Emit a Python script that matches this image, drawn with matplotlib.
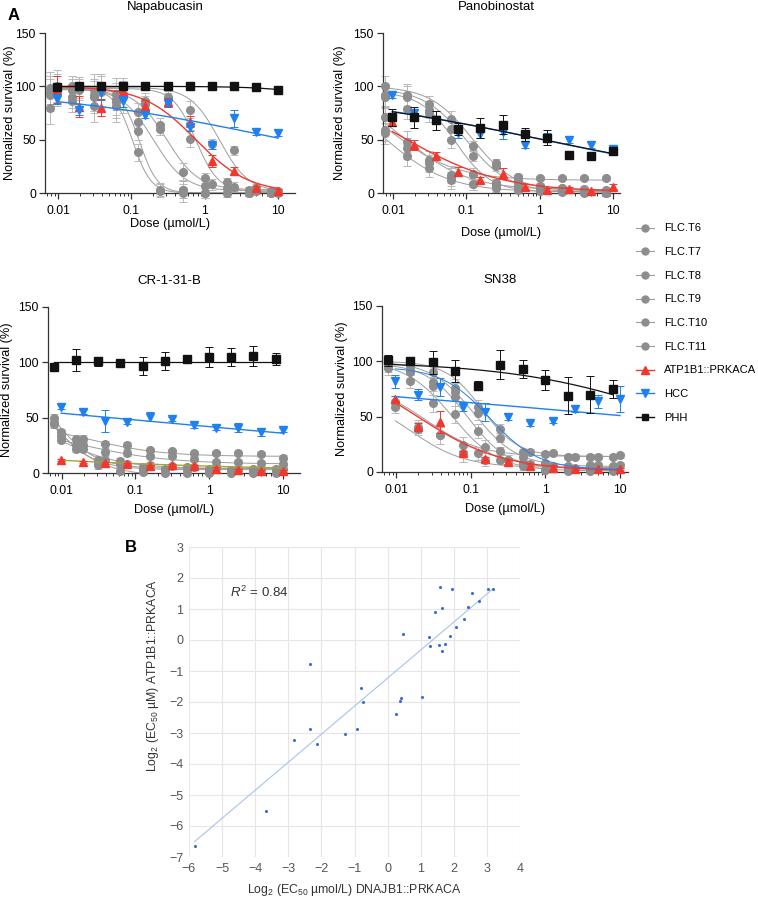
import numpy as np
import matplotlib
matplotlib.use("Agg")
import matplotlib.pyplot as plt
from matplotlib.lines import Line2D
from matplotlib.ticker import LogLocator, NullFormatter

plt.rcParams['font.family'] = ['Liberation Sans', 'DejaVu Sans']
plt.rcParams['mathtext.fontset'] = 'custom'
plt.rcParams['mathtext.rm'] = 'Liberation Sans'
plt.rcParams['mathtext.it'] = 'Liberation Sans:italic'
plt.rcParams['mathtext.default'] = 'regular'

# two dilution series used in the screens (umol/L)
dose10 = [0.0098, 0.0195, 0.039, 0.078, 0.156, 0.3125, 0.625, 1.25, 2.5, 5, 10]
dose8 = [0.0078, 0.0156, 0.03125, 0.0625, 0.125, 0.25, 0.5, 1, 2, 4, 8]

flc_names = ['FLC.T6', 'FLC.T7', 'FLC.T8', 'FLC.T9', 'FLC.T10', 'FLC.T11']

# fit parameters are (top, bottom, log10 EC50, hill)

# ---- Napabucasin
napa_flc = [
    [95, 97, 92, 88, 38, 3, 3, 0, 0, 0, 0],
    [80, 90, 82, 85, 58, 2, 0, 0, 0, 0, 1],
    [98, 100, 97, 93, 67, 60, 3, 7, 5, 0, 0],
    [92, 86, 90, 82, 76, 64, 20, 14, 10, 3, 2],
    [97, 99, 95, 90, 86, 90, 51, 8, 6, 2, 0],
    [100, 97, 97, 93, 83, 88, 78, 46, 40, 5, 2],
]
napa_flc_err = [15, 10, 15, 15, 8, 6, 8, 5, 4, 3, 2]
napa_flc_fit = [(97, 0, -0.98, 3.5), (97, 0, -0.89, 3.5), (98, 2, -0.70, 2.0),
                (98, 3, -0.52, 2.0), (98, 1, -0.12, 2.8), (99, 1, 0.20, 2.2)]
napa_atp = [97, 81, 80, 95, 82, 85, 67, 30, 21, 5, 2]
napa_atp_err = [13, 10, 8, 5, 5, 4, 5, 6, 3, 2, 2]
napa_hcc = [88, 78, 95, 86, 73, 84, 62, 45, 70, 57, 56]
napa_hcc_err = [5, 5, 8, 5, 3, 3, 4, 4, 8, 3, 3]
napa_phh = [99, 100, 100, 100, 100, 100, 100, 100, 100, 99, 97]
napa_phh_err = [3, 2, 2, 1, 1, 1, 1, 1, 1, 2, 3]
napa_fits = {'atp': (100, 0, -0.12, 1.2), 'hcc': (100, 0, 1.1, 0.25), 'phh': (100, 0, 2.5, 1.0)}

# ---- Panobinostat
pano_flc = [
    [100, 92, 83, 69, 44, 28, 15, 7, 5, 3, 2],
    [92, 90, 78, 60, 35, 25, 12, 6, 4, 3, 1],
    [90, 79, 75, 50, 18, 9, 6, 4, 2, 1, 0],
    [71, 48, 31, 17, 18, 9, 8, 6, 5, 4, 3],
    [59, 42, 28, 15, 8, 7, 15, 14, 14, 14, 14],
    [56, 35, 23, 12, 8, 5, 3, 2, 1, 0, 0],
]
pano_flc_err = [10, 10, 8, 8, 5, 4, 3, 2, 2, 2, 2]
pano_flc_fit = [(100, 2, -0.92, 1.5), (98, 1, -1.0, 1.5), (95, 1, -1.15, 1.8),
                (100, 3, -1.85, 1.0), (100, 12, -2.0, 1.0), (100, 1, -2.1, 1.0)]
pano_atp = [67, 45, 35, 20, 12, 18, 6, 3, 4, 2, 6]
pano_atp_err = [4, 5, 3, 4, 3, 5, 2, 2, 2, 2, 2]
pano_hcc = [92, 75, 68, 56, 55, 57, 45, 52, 50, 45, 41]
pano_hcc_err = [3, 4, 3, 4, 3, 6, 3, 4, 3, 3, 3]
pano_phh = [71, 71, 68, 60, 61, 64, 55, 52, 36, 35, 39]
pano_phh_err = [8, 10, 9, 6, 9, 9, 6, 7, 3, 3, 3]
pano_fits = {'atp': (100, 1, -1.82, 0.67), 'hcc': (100, 0, 0.04, 0.25), 'phh': (100, 0, 0.05, 0.245)}

# ---- CR-1-31-B
cr_flc = [
    [50, 25, 12, 11, 5, 4, 5, 4, 3, 4, 4],
    [45, 22, 9, 8, 4, 3, 4, 3, 3, 3, 3],
    [44, 31, 7, 2, 1, 0, 0, 0, 0, 0, 0],
    [37, 31, 26, 25, 21, 20, 18, 18, 18, 17, 14],
    [33, 25, 19, 18, 15, 15, 13, 10, 10, 9, 8],
    [30, 22, 12, 8, 7, 6, 5, 5, 4, 4, 4],
]
cr_flc_err = [3, 3, 3, 3, 2, 2, 2, 2, 2, 2, 2]
cr_flc_fit = [(100, 4, -2.15, 1.5), (100, 3, -2.2, 1.5), (100, -3, -2.2, 1.2),
              (45, 15, -1.6, 0.9), (45, 8, -1.8, 0.7), (60, 4, -2.1, 1.0)]
cr_atp = [12, 10, 9, 8, 6, 7, 6, 4, 3, 2, 2]
cr_atp_err = [1, 1, 1, 1, 1, 1, 1, 1, 1, 1, 1]
cr_hcc = [60, 55, 47, 46, 51, 49, 43, 41, 41, 37, 39]
cr_hcc_err = [2, 2, 10, 2, 4, 2, 2, 2, 4, 4, 2]
cr_phh = [96, 102, 101, 99, 97, 101, 103, 105, 105, 106, 103]
cr_phh_err = [3, 10, 4, 2, 8, 8, 4, 9, 8, 9, 5]
cr_fits = {'atp': (100, 0, -8.03, 0.147), 'hcc': (100, 0, -1.346, 0.1065), 'phh': (100, 100, 0, 1.0)}

# ---- SN38
sn_flc = [
    [98, 95, 90, 76, 59, 39, 18, 16, 14, 14, 14],
    [96, 90, 81, 72, 53, 31, 14, 8, 5, 6, 5],
    [94, 82, 78, 68, 37, 19, 8, 2, 4, 3, 4],
    [99, 91, 62, 52, 17, 11, 5, 2, 1, 1, 1],
    [63, 39, 33, 24, 23, 11, 18, 17, 14, 14, 15],
    [59, 41, 33, 17, 11, 11, 7, 5, 4, 6, 6],
]
sn_flc_err = [6, 6, 8, 8, 6, 4, 3, 2, 2, 2, 2]
sn_flc_fit = [(100, 14, -0.85, 1.8), (100, 5, -0.95, 1.5), (98, 3, -1.05, 1.6),
              (100, 1, -1.25, 1.4), (80, 14, -1.6, 1.2), (70, 4, -1.8, 1.2)]
sn_atp = [66, 41, 45, 17, 12, 9, 5, 4, 3, 3, 3]
sn_atp_err = [3, 3, 10, 2, 2, 2, 2, 2, 1, 1, 1]
sn_hcc = [82, 70, 77, 59, 54, 50, 44, 46, 57, 64, 66]
sn_hcc_err = [6, 5, 8, 4, 8, 3, 2, 2, 3, 6, 12]
sn_phh = [101, 100, 99, 91, 78, 97, 93, 83, 69, 70, 75]
sn_phh_err = [5, 3, 10, 10, 4, 13, 8, 9, 17, 17, 8]
sn_fits = {'atp': (100, 1, -1.72, 0.76), 'hcc': (100, 0, 1.166, 0.1036), 'phh': (100, 0, 1.83, 0.394),
           'hcc2': (95, 2, -0.74, 1.34)}

# ---- panel B: log2 EC50 values
ec50_dnajb1 = [-5.83, -3.66, -2.84, -2.35, -2.35, -2.13, -1.28, -0.93, -0.80, -0.75, 0.26,
               0.38, 0.41, 0.46, 1.05, 1.24, 1.27, 1.44, 1.56, 1.58, 1.65, 1.65, 1.72, 1.88,
               1.96, 2.07, 2.30, 2.43, 2.55, 2.76, 3.02, 3.19]
ec50_atp1b1 = [-6.63, -5.53, -3.21, -2.88, -0.79, -3.34, -3.02, -2.88, -1.54, -2.00, -2.40,
               -1.96, -1.88, 0.20, -1.83, 0.10, -0.20, 0.90, -0.15, 1.70, 1.04, -0.36, -0.13, 0.13,
               1.66, 0.43, 0.68, 1.05, 1.52, 1.27, 1.65, 1.65]

GRAY = '#8d8d8d'
GRAY_LINE = '#9c9c9c'
GRAY_ERR = '#b8b8b8'
RED = '#f2372c'
BLUE = '#1f80f0'
BLACK = '#111111'


def logistic(x, top, bottom, logec, hill):
    return bottom + (top - bottom) / (1 + 10 ** ((np.log10(x) - logec) * hill))


def curve(ax, doses, fit, color, lw, z):
    xs = np.logspace(np.log10(min(doses)), np.log10(max(doses)), 200)
    ax.plot(xs, logistic(xs, *fit), color=color, lw=lw, zorder=z)


def points(ax, doses, vals, err, marker, color, ecolor, ms, z):
    ax.errorbar(doses, vals, yerr=err, fmt='none', ecolor=ecolor, elinewidth=0.7,
                capsize=3, capthick=0.7, zorder=z - 0.5, clip_on=False)
    ax.plot(doses, vals, ls='none', marker=marker, ms=ms, mfc=color, mec=color,
            zorder=z, clip_on=False)


panels = [
    dict(title='Napabucasin', box=(45, 295, 33, 193), xlog=(-2.177, 1.232),
         flc=napa_flc, flc_err=napa_flc_err, flc_fit=napa_flc_fit,
         flc_doses=[dose8, dose8, dose8, dose8, dose10, dose10],
         atp=napa_atp, atp_err=napa_atp_err, hcc=napa_hcc, hcc_err=napa_hcc_err,
         phh=napa_phh, phh_err=napa_phh_err, fits=napa_fits, phh_doses=dose10,
         ylab=29, xlab=25, atp_line=RED),
    dict(title='Panobinostat', box=(383, 620, 33, 193), xlog=(-2.136, 1.095),
         flc=pano_flc, flc_err=pano_flc_err, flc_fit=pano_flc_fit,
         flc_doses=[dose8] * 6,
         atp=pano_atp, atp_err=pano_atp_err, hcc=pano_hcc, hcc_err=pano_hcc_err,
         phh=pano_phh, phh_err=pano_phh_err, fits=pano_fits, phh_doses=dose10,
         ylab=37, xlab=34, atp_line=RED),
    dict(title='CR-1-31-B', box=(48, 300, 307, 473), xlog=(-2.186, 1.235),
         flc=cr_flc, flc_err=cr_flc_err, flc_fit=cr_flc_fit,
         flc_doses=[dose8, dose8, dose8, dose10, dose10, dose10],
         atp=cr_atp, atp_err=cr_atp_err, hcc=cr_hcc, hcc_err=cr_hcc_err,
         phh=cr_phh, phh_err=cr_phh_err, fits=cr_fits, phh_doses=dose8,
         ylab=35, xlab=31, atp_line='#a9a43a'),
    dict(title='SN38', box=(382, 628, 306, 472), xlog=(-2.187, 1.107),
         flc=sn_flc, flc_err=sn_flc_err, flc_fit=sn_flc_fit,
         flc_doses=[dose8, dose8, dose8, dose8, dose10, dose10],
         atp=sn_atp, atp_err=sn_atp_err, hcc=sn_hcc, hcc_err=sn_hcc_err,
         phh=sn_phh, phh_err=sn_phh_err, fits=sn_fits, phh_doses=dose8,
         ylab=34, xlab=31, atp_line=RED),
]

W, H = 758, 898
fig = plt.figure(figsize=(W / 100, H / 100), dpi=100)

for p in panels:
    x0, x1, y0, y1 = p['box']
    ax = fig.add_axes([x0 / W, 1 - y1 / H, (x1 - x0) / W, (y1 - y0) / H])
    for vals, doses, fit in zip(p['flc'], p['flc_doses'], p['flc_fit']):
        curve(ax, doses, fit, GRAY_LINE, 0.7, 2)
        points(ax, doses, vals, p['flc_err'], 'o', GRAY, GRAY_ERR, 5.5, 3)
    fits = p['fits']
    curve(ax, dose10, fits['atp'], p['atp_line'], 1.0, 4)
    points(ax, dose10, p['atp'], p['atp_err'], '^', RED, RED, 6, 5)
    curve(ax, dose10, fits['hcc'], BLUE, 1.0, 6)
    if 'hcc2' in fits:
        curve(ax, dose10, fits['hcc2'], BLUE, 0.7, 6)
    points(ax, dose10, p['hcc'], p['hcc_err'], 'v', BLUE, BLUE, 6, 7)
    curve(ax, p['phh_doses'], fits['phh'], BLACK, 0.9, 8)
    points(ax, p['phh_doses'], p['phh'], p['phh_err'], 's', BLACK, BLACK, 5.2, 9)

    ax.set_xscale('log')
    ax.set_xlim(10 ** p['xlog'][0], 10 ** p['xlog'][1])
    ax.set_ylim(0, 150)
    ax.set_yticks([0, 50, 100, 150])
    ax.set_xticks([0.01, 0.1, 1, 10])
    ax.set_xticklabels(['0.01', '0.1', '1', '10'])
    ax.xaxis.set_minor_locator(LogLocator(base=10, subs=np.arange(2, 10)))
    ax.xaxis.set_minor_formatter(NullFormatter())
    for s in ['top', 'right']:
        ax.spines[s].set_visible(False)
    for s in ['left', 'bottom']:
        ax.spines[s].set_color('#333333')
        ax.spines[s].set_linewidth(0.9)
    ax.tick_params(which='major', length=4, width=0.9, labelsize=8.8, color='#333333', pad=2.5)
    ax.tick_params(axis='x', which='major', pad=4.5)
    ax.tick_params(which='minor', length=2.5, width=0.7, color='#333333')
    ax.set_ylabel('Normalized survival (%)', fontsize=9.2)
    ax.yaxis.set_label_coords(-p['ylab'] / (x1 - x0), 0.5)
    ax.set_xlabel('Dose (\u00b5mol/L)', fontsize=9.2)
    ax.xaxis.set_label_coords(0.5, -p['xlab'] / (y1 - y0))
    ax.text(0.48, 1 + 26 / (y1 - y0), p['title'], transform=ax.transAxes,
            ha='center', va='center', fontsize=9.5)

# legend shared by the four dose-response panels
handles = [Line2D([], [], color=GRAY_LINE, lw=0.8, marker='o', ms=5, mfc=GRAY, mec=GRAY)
           for _ in flc_names]
handles += [Line2D([], [], color=RED, lw=1, marker='^', ms=6, mfc=RED, mec=RED),
            Line2D([], [], color=BLUE, lw=1, marker='v', ms=6, mfc=BLUE, mec=BLUE),
            Line2D([], [], color=BLACK, lw=1, marker='s', ms=5, mfc=BLACK, mec=BLACK)]
labels = flc_names + ['ATP1B1::PRKACA', 'HCC', 'PHH']
fig.legend(handles, labels, loc='upper left', bbox_to_anchor=(632 / W, 1 - 219 / H),
           frameon=False, fontsize=8, labelspacing=1.23, handlelength=1.6,
           handletextpad=0.9, borderaxespad=0)

# panel B
axb = fig.add_axes([189 / W, 1 - 857 / H, 331 / W, 310 / H])
slope, icpt = np.polyfit(ec50_dnajb1, ec50_atp1b1, 1)
xl = np.array([min(ec50_dnajb1), max(ec50_dnajb1)])
axb.plot(xl, slope * xl + icpt, color='#a9c3ea', lw=0.8, zorder=2)
axb.scatter(ec50_dnajb1, ec50_atp1b1, s=5, color='#3a6ed6', zorder=3, linewidths=0)
axb.set_xlim(-6, 4)
axb.set_ylim(-7, 3)
axb.set_xticks(range(-6, 5))
axb.set_yticks(range(-7, 4))
axb.grid(True, color='#e6e6e6', lw=0.8)
axb.set_axisbelow(True)
for s in axb.spines.values():
    s.set_visible(False)
axb.tick_params(length=0, labelsize=9, labelcolor='#555555', pad=4)
axb.set_xlabel('Log$_2$ (EC$_{50}$ \u00b5mol/L) DNAJB1::PRKACA', fontsize=8.8, color='#333333')
axb.xaxis.set_label_coords(0.5, -25 / 310)
axb.set_ylabel('Log$_2$ (EC$_{50}$ \u00b5M) ATP1B1::PRKACA', fontsize=8.8, color='#333333')
axb.yaxis.set_label_coords(-28 / 331, 0.585)
axb.text(-4.75, 1.55, '$\\mathit{R}^2$ = 0.84', fontsize=9.5, color='#333333', va='center')

fig.text(8 / W, 1 - 15 / H, 'A', fontsize=12, fontweight='bold', va='center')
fig.text(125 / W, 1 - 547 / H, 'B', fontsize=12, fontweight='bold', va='center')

fig.savefig('out.png', dpi=100)
